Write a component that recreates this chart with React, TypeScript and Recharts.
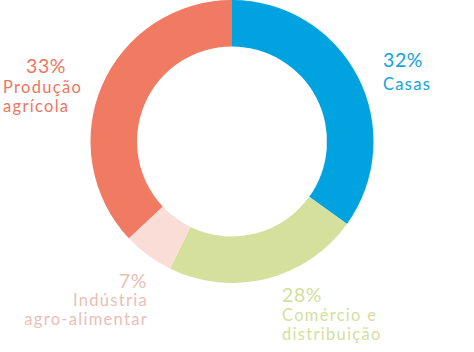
import React from 'react';
import { PieChart, Pie, Cell } from 'recharts';

// Categories and values (drawn arc sizes; label percentages as printed)
const categories = ['Casas', 'Comércio e distribuição', 'Indústria agro-alimentar', 'Produção agrícola'];
const arcValues = [34.9, 22.3, 5.8, 37.0];
const percentLabels = ['32%', '28%', '7%', '33%'];
const nameLines = [['Casas'], ['Comércio e', 'distribuição'], ['Indústria', 'agro-alimentar'], ['Produção', 'agrícola']];

const colors = ['#00A3E0', '#D4E09B', '#FADDD6', '#F07A62'];
const textColors = ['#12A3DF', '#D3DF9E', '#E9C0B7', '#EE7661'];

// label layout (positions of text blocks)
const layout = [
  { anchor: 'start', pct: [383, 66.5], lines: [[383, 90]] },
  { anchor: 'start', pct: [282, 301.5], lines: [[282, 321], [282, 340]] },
  { anchor: 'end', pct: [147, 287.5], lines: [[148, 306], [148, 324.5]] },
  { anchor: 'start', pct: [26, 72.5], lines: [[3, 92.5], [3, 112]] },
];

const data = categories.map((name, i) => ({ name, value: arcValues[i] }));

const FONT = 'Lato, "DejaVu Sans", sans-serif';

const renderLabel = (props: any) => {
  const i = props.index;
  const l = layout[i];
  return (
    <g key={`lbl-${i}`}>
      <text x={l.pct[0]} y={l.pct[1]} textAnchor={l.anchor} fill={textColors[i]} fontFamily={FONT} fontSize={19.5} letterSpacing={0.6}>
        {percentLabels[i]}
      </text>
      {nameLines[i].map((t, j) => (
        <text key={j} x={l.lines[j][0]} y={l.lines[j][1]} textAnchor={l.anchor} fill={textColors[i]} fontFamily={FONT} fontSize={16.5} letterSpacing={1.3}>
          {t}
        </text>
      ))}
    </g>
  );
};

export default function App() {
  return (
    <div style={{ position: 'absolute', left: 0, top: 0, width: 474, height: 352, background: '#fff' }}>
      <PieChart width={474} height={352} margin={{ top: 0, right: 0, bottom: 0, left: 0 }}>
        <Pie
          data={data}
          dataKey="value"
          nameKey="name"
          cx={232}
          cy={141.5}
          outerRadius={141.5}
          innerRadius={95}
          startAngle={90}
          endAngle={-270}
          stroke="none"
          isAnimationActive={false}
          label={renderLabel}
          labelLine={false}
        >
          {data.map((d, i) => (
            <Cell key={d.name} fill={colors[i]} />
          ))}
        </Pie>
      </PieChart>
    </div>
  );
}
